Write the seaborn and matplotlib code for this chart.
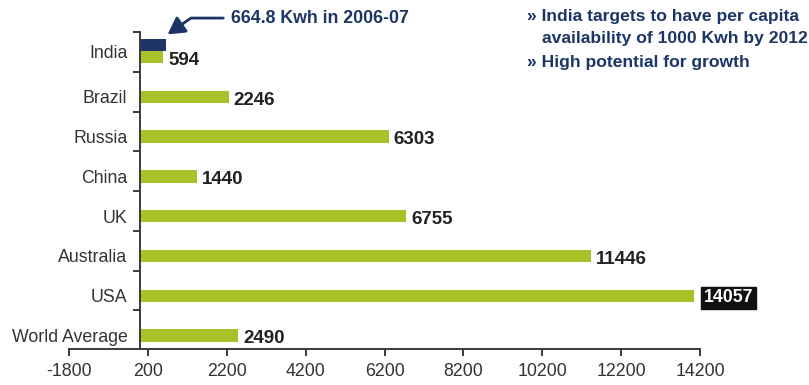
import matplotlib
matplotlib.use("Agg")
import matplotlib.pyplot as plt
import matplotlib.transforms as mtransforms
import seaborn as sns
import pandas as pd

categories = ["India", "Brazil", "Russia", "China", "UK", "Australia", "USA", "World Average"]
values = [594, 2246, 6303, 1440, 6755, 11446, 14057, 2490]
india_2006 = 664.8
x_ticks = [-1800, 200, 2200, 4200, 6200, 8200, 10200, 12200, 14200]

GREEN = "#a9c22a"
NAVY = "#1b3566"
DARK = "#222222"

sns.set_style("white")
plt.rcParams["font.family"] = ["Liberation Sans", "DejaVu Sans"]

fig = plt.figure(figsize=(8.09, 3.85), dpi=100)
ax = fig.add_axes([0.0853, 0.0935, 0.78, 0.8234])

df = pd.DataFrame({"country": categories, "kwh": values})
sns.barplot(data=df, x="kwh", y="country", orient="h", color=GREEN,
            width=0.31, saturation=1, ax=ax)
for p in ax.patches:
    p.set_edgecolor("none")

# India 2006-07 bar (above the India bar)
ax.barh(categories.index("India") - 0.31, india_2006, height=0.31, color=NAVY, edgecolor="none")

ax.set_xlim(-1800, 14200)
ax.set_ylim(7.34, -0.62)
ax.set_xticks(x_ticks)
ax.set_xticklabels([str(t) for t in x_ticks])
ax.set_xlabel("")
ax.set_ylabel("")

for s in ["top", "right"]:
    ax.spines[s].set_visible(False)
ax.spines["left"].set_position(("data", 0))
for s in ["left", "bottom"]:
    ax.spines[s].set_color("#3a3a3a")
    ax.spines[s].set_linewidth(1.4)

ax.tick_params(axis="x", which="major", direction="out", length=5, width=1.4,
               color="#3a3a3a", labelsize=12.8, labelcolor="#333333", pad=5, bottom=True)
ax.tick_params(axis="y", which="major", length=0, labelsize=12.8, labelcolor="#333333", pad=9)
ax.set_yticks(range(len(categories)), minor=False)
ax.set_yticks([i - 0.63 for i in range(len(categories))], minor=True)
ax.tick_params(axis="y", which="minor", direction="out", length=5, width=1.4,
               color="#3a3a3a", left=True)

# India label sits between its two bars
lab = ax.get_yticklabels()[0]
lab.set_transform(lab.get_transform() + mtransforms.ScaledTranslation(0, 6 / 100, fig.dpi_scale_trans))

# value labels
for i, v in enumerate(values):
    if categories[i] == "USA":
        ax.text(v + 230, i + 0.05, str(v), va="center", ha="left", fontsize=12.8,
                fontweight="bold", color="white",
                bbox=dict(boxstyle="square,pad=0.15", facecolor="#111111", edgecolor="#111111"))
    else:
        ax.text(v + 120, i + 0.08, str(v), va="center", ha="left", fontsize=13.5,
                fontweight="bold", color=DARK)

# annotation for 2006-07 value
ax.annotate("664.8 Kwh in 2006-07", xy=(700, -0.57), xytext=(2300, -0.98),
            textcoords="data", annotation_clip=False, va="center", ha="left",
            fontsize=12.8, fontweight="bold", color=NAVY,
            arrowprops=dict(arrowstyle="-|>,head_length=0.8,head_width=0.45", color=NAVY, lw=2,
                            shrinkA=3, shrinkB=0,
                            connectionstyle="angle,angleA=0,angleB=35,rad=0"))

fig.text(527 / 809, 1 - 17 / 385, "» India targets to have per capita", fontsize=12.6,
         fontweight="bold", color=NAVY, va="center", ha="left")
fig.text(542 / 809, 1 - 39 / 385, "availability of 1000 Kwh by 2012", fontsize=12.6,
         fontweight="bold", color=NAVY, va="center", ha="left")
fig.text(527 / 809, 1 - 63 / 385, "» High potential for growth", fontsize=12.6,
         fontweight="bold", color=NAVY, va="center", ha="left")

fig.savefig("out.png", dpi=100)
